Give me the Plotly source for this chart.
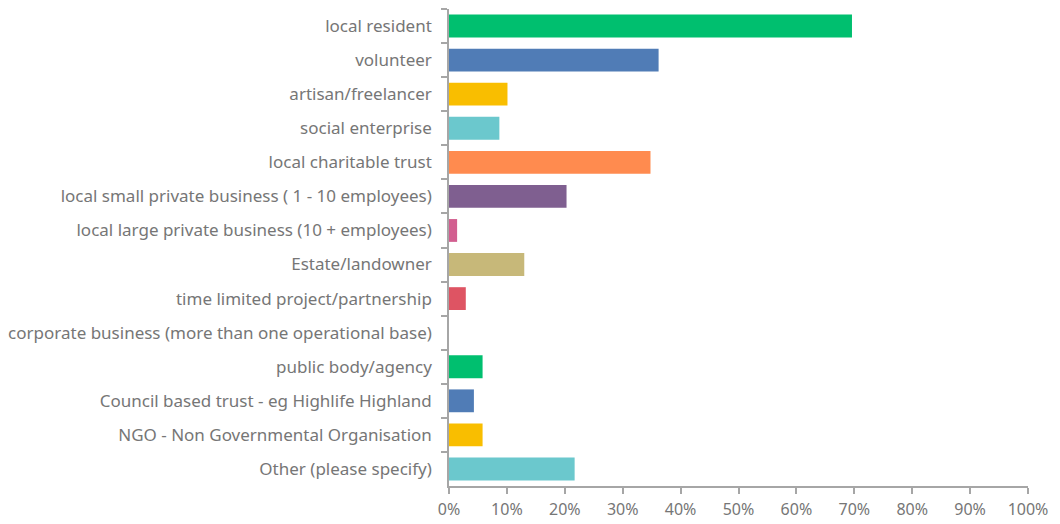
import plotly.graph_objects as go

# Respondent categories (top to bottom) and share of respondents (%)
categories = [
    "local resident",
    "volunteer",
    "artisan/freelancer",
    "social enterprise",
    "local charitable trust",
    "local small private business ( 1 - 10 employees)",
    "local large private business (10 + employees)",
    "Estate/landowner",
    "time limited project/partnership",
    "corporate business (more than one operational base)",
    "public body/agency",
    "Council based trust - eg Highlife Highland",
    "NGO - Non Governmental Organisation",
    "Other (please specify)",
]
shares = [69.6, 36.2, 10.1, 8.7, 34.8, 20.3, 1.4, 13.0, 2.9, 0.0, 5.8, 4.3, 5.8, 21.7]

bar_colors = [
    "#00BF6F", "#507CB6", "#F9BE00", "#6BC8CD", "#FF8B4F", "#7F5F90", "#D25F90",
    "#C7B879", "#DE5463", "#A6A6A6", "#00BF6F", "#507CB6", "#F9BE00", "#6BC8CD",
]

x_ticks = list(range(0, 101, 10))

fig = go.Figure(
    go.Bar(
        x=shares,
        y=categories,
        orientation="h",
        marker=dict(color=bar_colors, line=dict(width=0)),
        width=0.67,
        hoverinfo="x+y",
    )
)

axis_gray = "#A6A6A6"
label_font = dict(family="Noto Sans, Open Sans, sans-serif", size=17, color="#767676")
x_tick_font = dict(family="Noto Sans, Open Sans, sans-serif", size=16, color="#767676")

fig.update_layout(
    width=1060,
    height=524,
    margin=dict(l=449, r=32, t=9, b=38),
    plot_bgcolor="white",
    paper_bgcolor="white",
    showlegend=False,
    xaxis=dict(
        range=[0, 100],
        tickvals=x_ticks,
        ticktext=[f"{v}%" for v in x_ticks],
        showgrid=False,
        zeroline=False,
        showline=True,
        linecolor=axis_gray,
        linewidth=1.5,
        ticks="outside",
        ticklen=6,
        tickcolor=axis_gray,
        tickwidth=1.5,
        tickfont=x_tick_font,
        ticklabelstandoff=2,
        automargin=False,
        fixedrange=True,
    ),
    yaxis=dict(
        autorange="reversed",
        showgrid=False,
        zeroline=False,
        showline=True,
        linecolor=axis_gray,
        linewidth=1.5,
        ticks="outside",
        tickson="boundaries",
        ticklen=6,
        tickcolor=axis_gray,
        tickwidth=1.5,
        tickfont=label_font,
        ticklabelstandoff=12,
        automargin=False,
        fixedrange=True,
    ),
)

fig.write_html("out.html")
